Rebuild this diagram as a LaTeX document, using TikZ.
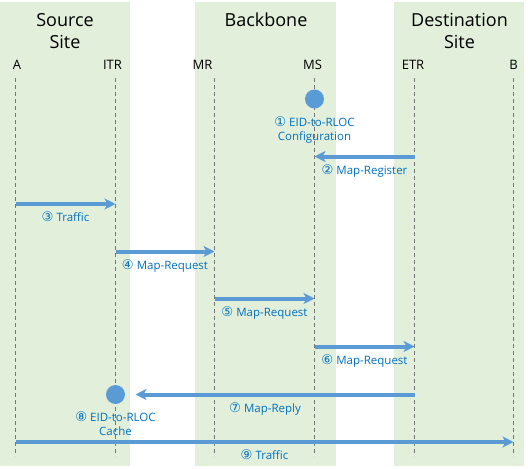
\documentclass[tikz,border=0pt]{standalone}
\usepackage{fontspec}
\setmainfont{Open Sans}
\newfontfamily\circfont{DejaVu Sans}[Scale=1.15]
\usetikzlibrary{arrows.meta,positioning}
\definecolor{sitegreen}{RGB}{226,239,218}
\definecolor{msgblue}{RGB}{91,155,213}
\definecolor{labelblue}{RGB}{0,112,192}
\definecolor{lifegray}{RGB}{118,118,118}

\begin{document}
\begin{tikzpicture}[
    x=1pt, y=-1pt,
    band/.style={fill=sitegreen, draw=none},
    header/.style={font=\fontsize{18}{22}\selectfont, align=center},
    entity/.style={font=\fontsize{13}{15}\selectfont, anchor=base},
    lifeline/.style={draw=lifegray, line width=0.9pt, dash pattern=on 4pt off 3pt},
    msg/.style={draw=msgblue, line width=4pt, -{Stealth[length=11pt, width=11pt, inset=3pt]}},
    msglabel/.style={font=\fontsize{11.5}{14}\selectfont, text=labelblue, align=center, inner sep=0pt},
    event/.style={circle, fill=msgblue, minimum size=19pt, inner sep=0pt}
]
\useasboundingbox (0,0) rectangle (528,469);

% Sites
\fill[band] (0,2) rectangle (130,466);
\fill[band] (195,2) rectangle (336,466);
\fill[band] (394,2) rectangle (524,466);

\node[header] (source) at (65,31) {Source\\Site};
\node[header] (backbone) at (266,20) {Backbone};
\node[header] (dest) at (459.5,31) {Destination\\Site};

% Devices
\node[entity] (a) at (17,69) {A};
\node[entity] (itr) at (112.5,69) {ITR};
\node[entity] (mr) at (202.5,69) {MR};
\node[entity] (ms) at (312.5,69) {MS};
\node[entity] (etr) at (413,69) {ETR};
\node[entity] (b) at (513.5,69) {B};

\coordinate (colA) at (15.5,78);
\coordinate (colITR) at (115.5,78);
\coordinate (colMR) at (214.5,78);
\coordinate (colMS) at (314.5,78);
\coordinate (colETR) at (414.5,78);
\coordinate (colB) at (513.5,78);
\coordinate (bottom) at (0,456);

\draw[lifeline] (colA) -- (colA |- bottom);
\draw[lifeline] (colITR) -- (colITR |- bottom);
\draw[lifeline] (colMR) -- (colMR |- bottom);
\draw[lifeline] (colMS) -- (colMS |- bottom);
\draw[lifeline] (colETR) -- (colETR |- bottom);
\draw[lifeline] (colB) -- (colB |- bottom);

% Message rows
\coordinate (r1) at (0,99);
\coordinate (r2) at (0,156.5);
\coordinate (r3) at (0,204);
\coordinate (r4) at (0,251.5);
\coordinate (r5) at (0,298.5);
\coordinate (r6) at (0,346.5);
\coordinate (r7) at (0,394.5);
\coordinate (r9) at (0,442);

\node[event] (config) at (colMS |- r1) {};
\node[msglabel, anchor=base] (configlabel) at ([yshift=-41pt]config.center) {{\circfont ①} EID-to-RLOC\\Configuration};

\draw[msg] (colETR |- r2) -- (colMS |- r2)
    node[msglabel, midway, anchor=base, yshift=-17.5pt] (m2) {{\circfont ②} Map-Register};
\draw[msg] (colA |- r3) -- (colITR |- r3)
    node[msglabel, midway, anchor=base, yshift=-17.5pt] (m3) {{\circfont ③} Traffic};
\draw[msg] (colITR |- r4) -- (colMR |- r4)
    node[msglabel, midway, anchor=base, yshift=-17.5pt] (m4) {{\circfont ④} Map-Request};
\draw[msg] (colMR |- r5) -- (colMS |- r5)
    node[msglabel, midway, anchor=base, yshift=-17.5pt] (m5) {{\circfont ⑤} Map-Request};
\draw[msg] (colMS |- r6) -- (colETR |- r6)
    node[msglabel, midway, anchor=base, yshift=-17.5pt] (m6) {{\circfont ⑥} Map-Request};

\node[event] (cache) at (colITR |- r7) {};
\draw[msg, shorten >=20pt] (colETR |- r7) -- (colITR |- r7)
    node[msglabel, midway, anchor=base, yshift=-17.5pt] (m7) {{\circfont ⑦} Map-Reply};
\node[msglabel, anchor=base] (cachelabel) at ([yshift=-41pt]cache.center) {{\circfont ⑧} EID-to-RLOC\\Cache};

\draw[msg] (colA |- r9) -- (colB |- r9)
    node[msglabel, midway, anchor=base, yshift=-17.5pt] (m9) {{\circfont ⑨} Traffic};

\end{tikzpicture}
\end{document}
